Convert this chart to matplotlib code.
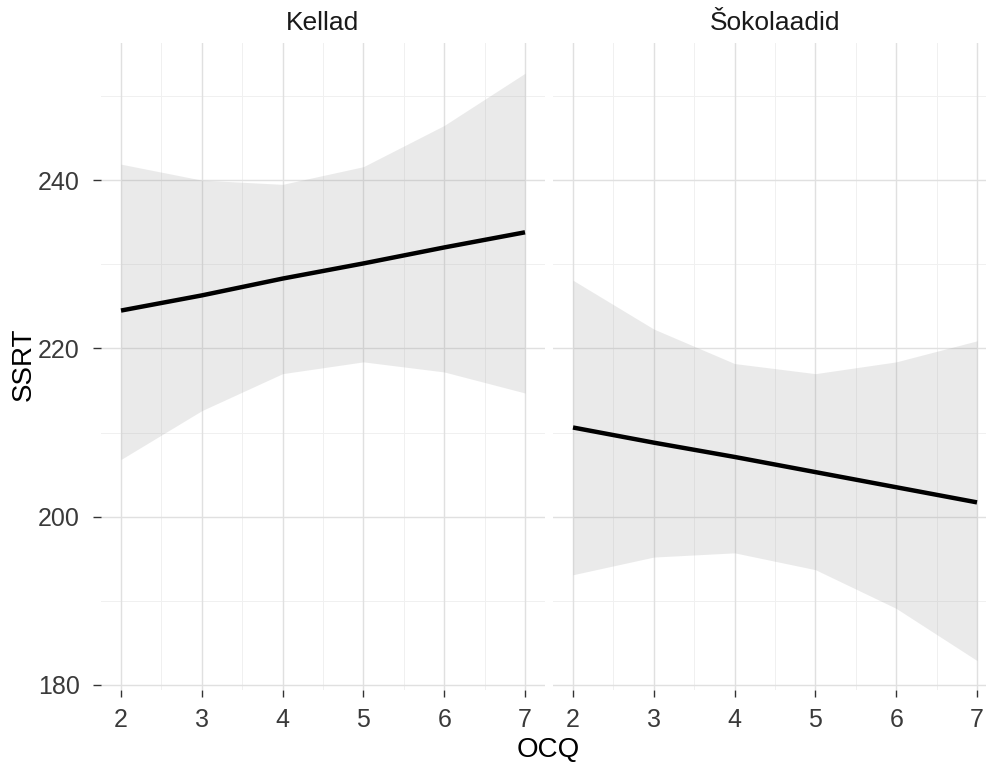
import matplotlib
matplotlib.use("Agg")
import matplotlib.pyplot as plt
import numpy as np

plt.rcParams['font.family'] = ['Liberation Sans', 'DejaVu Sans']

# data
ocq = [2, 3, 4, 5, 6, 7]
panels = ["Kellad", "Šokolaadid"]

kellad_fit = [224.5, 226.3, 228.3, 230.1, 232.0, 233.8]
kellad_hi = [241.9, 240.0, 239.5, 241.6, 246.5, 252.7]
kellad_lo = [206.8, 212.6, 217.0, 218.4, 217.2, 214.7]

sok_fit = [210.6, 208.8, 207.1, 205.3, 203.5, 201.7]
sok_hi = [228.1, 222.3, 218.2, 217.0, 218.4, 220.9]
sok_lo = [193.1, 195.2, 195.7, 193.7, 189.1, 182.9]

y_ticks = [180, 200, 220, 240]
x_ticks = [2, 3, 4, 5, 6, 7]

fig = plt.figure(figsize=(9.87, 7.64), dpi=100)
W, H = 987.0, 764.0
top, bottom = 43, 690
ax1 = fig.add_axes([100.8 / W, 1 - bottom / H, 444.4 / W, (bottom - top) / H])
ax2 = fig.add_axes([552.8 / W, 1 - bottom / H, 444.4 / W, (bottom - top) / H])

series = [(kellad_fit, kellad_lo, kellad_hi), (sok_fit, sok_lo, sok_hi)]

for ax, name, (fit, lo, hi) in zip([ax1, ax2], panels, series):
    ax.set_xlim(1.75, 7.25)
    ax.set_ylim(179.4, 256.3)
    # grid
    for v in np.arange(2.5, 7.0, 1.0):
        ax.axvline(v, color='#F0F0F0', lw=0.7, zorder=0)
    for v in [190, 210, 230, 250]:
        ax.axhline(v, color='#F0F0F0', lw=0.7, zorder=0)
    for v in x_ticks:
        ax.axvline(v, color='#E0E0E0', lw=1.0, zorder=0)
    for v in y_ticks:
        ax.axhline(v, color='#E0E0E0', lw=1.0, zorder=0)
    ax.fill_between(ocq, lo, hi, color='#999999', alpha=0.2, lw=0, zorder=1)
    ax.plot(ocq, fit, color='black', lw=3.2, zorder=2, solid_capstyle='butt')
    for s in ax.spines.values():
        s.set_visible(False)
    ax.set_xticks(x_ticks)
    ax.tick_params(axis='x', length=5, width=1, color='#333333', pad=8,
                   labelsize=18, labelcolor='#3A3A3A')
    ax.set_title(name, fontsize=19, color='#1A1A1A', pad=9)

ax1.set_yticks(y_ticks)
ax1.tick_params(axis='y', length=6, width=1, color='#333333', pad=9,
                labelsize=18, labelcolor='#3A3A3A')
ax2.set_yticks([])

fig.text(548 / W, 1 - 750 / H, "OCQ", fontsize=20, ha='center', va='center')
fig.text(24 / W, 1 - 364 / H, "SSRT", fontsize=20, ha='center', va='center',
         rotation=90)

fig.savefig("out.png", dpi=100)
plt.close(fig)
